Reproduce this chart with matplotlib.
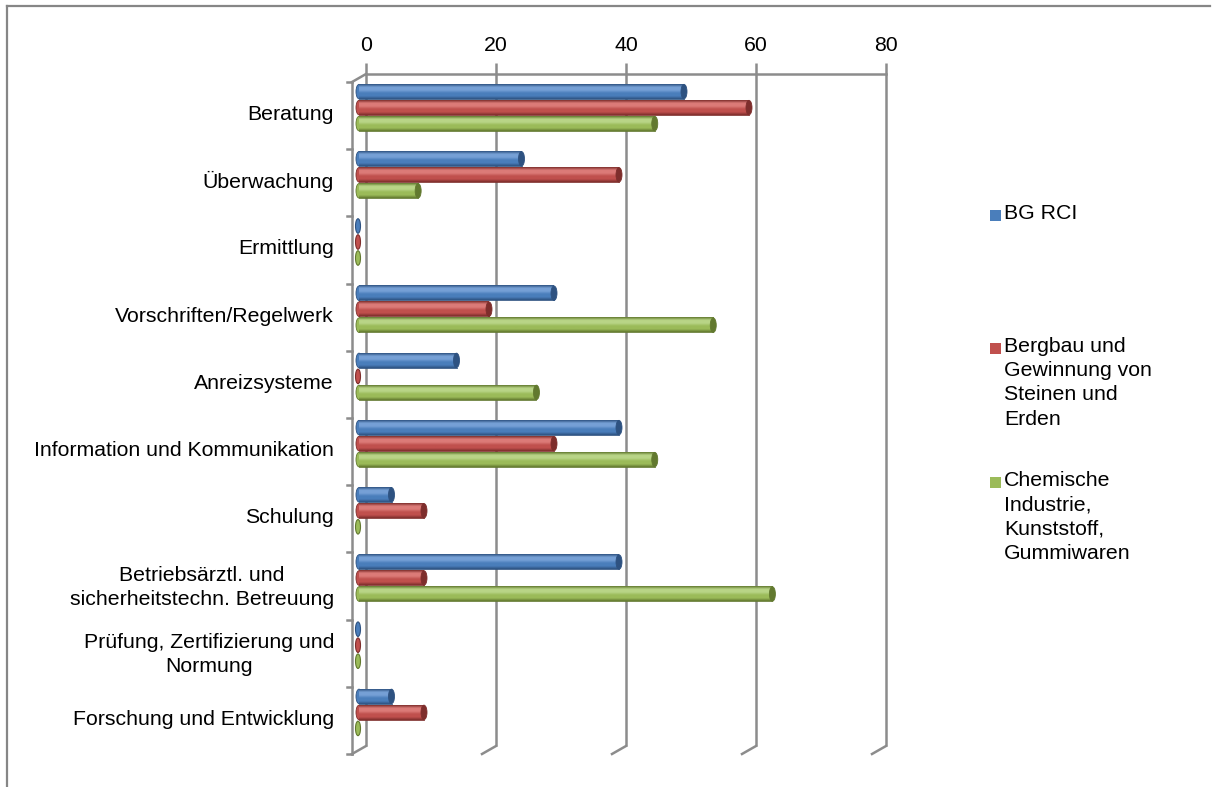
import numpy as np
import matplotlib
matplotlib.use("Agg")
from matplotlib import pyplot as plt
from matplotlib.patches import Ellipse, Rectangle
from matplotlib.lines import Line2D
from matplotlib.colors import LinearSegmentedColormap
from matplotlib.transforms import ScaledTranslation

plt.rcParams['font.family'] = ['Liberation Sans', 'DejaVu Sans']

categories = ["Beratung", "Überwachung", "Ermittlung", "Vorschriften/Regelwerk",
              "Anreizsysteme", "Information und Kommunikation", "Schulung",
              "Betriebsärztl. und\nsicherheitstechn. Betreuung",
              "Prüfung, Zertifizierung und\nNormung", "Forschung und Entwicklung"]
series_names = ["BG RCI",
                "Bergbau und\nGewinnung von\nSteinen und\nErden",
                "Chemische\nIndustrie,\nKunststoff,\nGummiwaren"]
bg_rci = [50, 25, 0, 30, 15, 40, 5, 40, 0, 5]
bergbau = [60, 40, 0, 20, 0, 30, 10, 10, 0, 10]
chemie = [45.5, 9.1, 0, 54.5, 27.3, 45.5, 0, 63.6, 0, 0]
xticks = [0, 20, 40, 60, 80]

colors = ["#4A7EBB", "#C0504D", "#9BBB59"]
darks = ["#2E5281", "#7E2E2C", "#62792F"]
lights = ["#76A0D6", "#DC7B78", "#B9D587"]
grid_col = "#8C8C8C"
fs = 15.3

W, H = 1212, 787
fig = plt.figure(figsize=(W / 100, H / 100), dpi=100)
ax = fig.add_axes([366 / W, 1 - 746 / H, 520 / W, 672 / H])
ax.set_xlim(0, 80)
ax.set_ylim(9.5, -0.5)
for s in ax.spines.values():
    s.set_visible(False)

# pixel -> data step sizes
px = 80 / 520
py = 10 / 672
depth_x, depth_y = -14 * px, 8 * py

# top tick labels
ax.xaxis.tick_top()
ax.set_xticks(xticks)
ax.tick_params(axis='x', length=0, pad=14, labelsize=fs)

# category labels on the front plane
ax.set_yticks(range(len(categories)), categories)
ax.tick_params(axis='y', length=0, pad=23, labelsize=fs)
for lbl in ax.get_yticklabels():
    lbl.set_multialignment('center')
    lbl.set_linespacing(1.35)
    lbl.set_transform(lbl.get_transform() + ScaledTranslation(0, -0.05, fig.dpi_scale_trans))

# back wall gridlines, floor feet and left wall
lw = 1.8
top = -0.5
bottom = len(categories) - 0.5
for v in xticks:
    ax.plot([v, v], [top - 11 * py, bottom], color=grid_col, lw=lw, clip_on=False, zorder=1,
            solid_capstyle='butt')
    ax.plot([v, v + depth_x], [bottom, bottom + depth_y], color=grid_col, lw=lw,
            clip_on=False, zorder=1)
ax.plot([0, 80], [top, top], color=grid_col, lw=lw, clip_on=False, zorder=1)
ax.plot([0, depth_x], [top, top + depth_y], color=grid_col, lw=lw, clip_on=False, zorder=1)
ax.plot([depth_x, depth_x], [top + depth_y, bottom + depth_y], color=grid_col, lw=lw,
        clip_on=False, zorder=1)
for k in range(len(categories) + 1):
    yk = k - 0.5 + depth_y
    ax.plot([depth_x, depth_x - 5 * px], [yk, yk], color=grid_col, lw=lw, clip_on=False, zorder=1)

# cylinders
bar_h = 14.5 * py
step = 16 * py
x_start = -7 * px
cap_w = 6 * px
for j, vals in enumerate([bg_rci, bergbau, chemie]):
    cmap = LinearSegmentedColormap.from_list(
        "cyl%d" % j, [darks[j], lights[j], lights[j], colors[j], colors[j], darks[j]])
    grad = np.linspace(0, 1, 64).reshape(-1, 1)
    for i, v in enumerate(vals):
        yc = i + (j - 1) * step
        if v <= 0:
            ax.add_patch(Ellipse((x_start - 1 * px, yc), 5 * px, bar_h, facecolor=colors[j],
                                 edgecolor=darks[j], lw=0.8, zorder=3, clip_on=False))
            continue
        xe = v + x_start
        ax.add_patch(Ellipse((x_start, yc), cap_w, bar_h, facecolor=colors[j],
                             edgecolor=darks[j], lw=0.6, zorder=2, clip_on=False))
        ax.imshow(grad, extent=[x_start, xe, yc + bar_h / 2, yc - bar_h / 2], cmap=cmap,
                  aspect='auto', zorder=3, interpolation='bilinear', clip_on=False)
        ax.plot([x_start, xe], [yc + bar_h / 2, yc + bar_h / 2], color=darks[j], lw=0.6,
                zorder=3, clip_on=False)
        ax.add_patch(Ellipse((xe, yc), cap_w, bar_h, facecolor=darks[j],
                             edgecolor=darks[j], lw=0.6, zorder=4, clip_on=False))

ax.set_xlim(0, 80)
ax.set_ylim(9.5, -0.5)

# legend
tops = [215, 348, 482]
for j, name in enumerate(series_names):
    yc = tops[j]
    fig.add_artist(Rectangle((990 / W, 1 - (yc + 5.5) / H), 11 / W, 11 / H,
                             facecolor=colors[j], edgecolor='none', transform=fig.transFigure))
    fig.text(1004 / W, 1 - (yc - 11) / H, name, fontsize=fs, va='top', ha='left',
             linespacing=1.35)

# chart border
fig.add_artist(Line2D([7 / W, 7 / W], [0, 1 - 6 / H], color="#868686", lw=1.6,
                      transform=fig.transFigure))
fig.add_artist(Line2D([7 / W, 1210 / W], [1 - 6 / H, 1 - 6 / H], color="#868686", lw=1.6,
                      transform=fig.transFigure))

fig.savefig("out.png", dpi=100)
